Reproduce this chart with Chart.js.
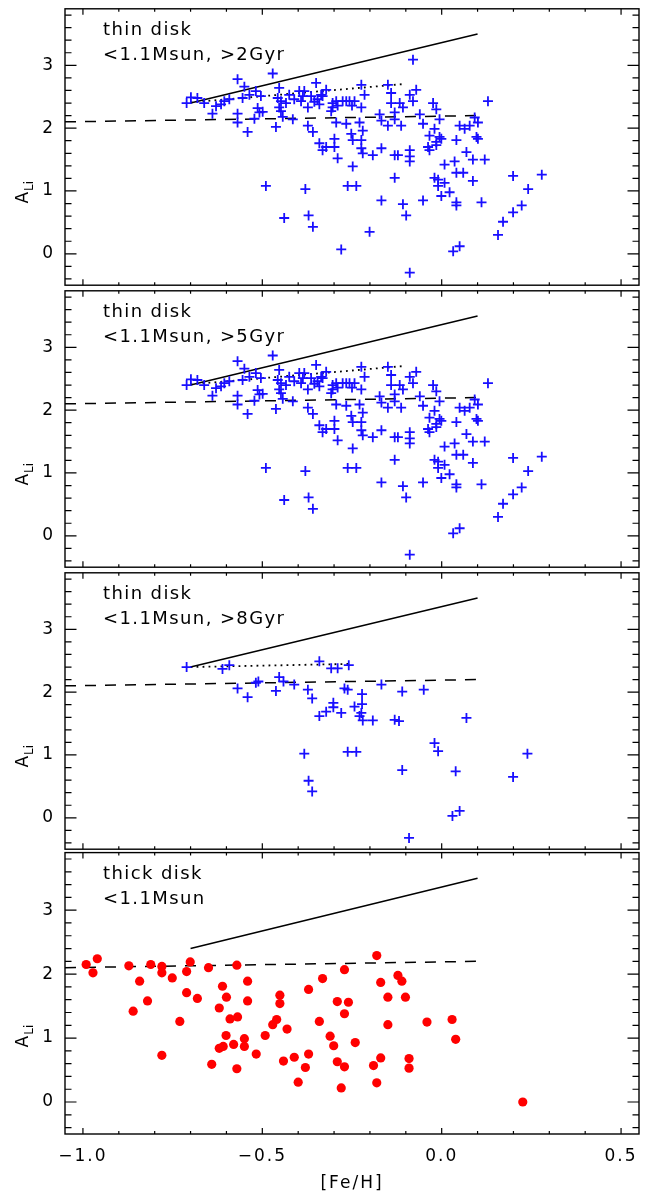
<!DOCTYPE html>
<html><head><meta charset="utf-8">
<script src="https://cdn.jsdelivr.net/npm/chart.js@4/dist/chart.umd.min.js"></script>
<style>
html,body{margin:0;padding:0;background:#fff;}
#wrap{position:relative;width:647px;height:1194px;overflow:hidden;}
#wrap canvas{position:absolute;left:0;}
</style></head><body><div id="wrap">
<canvas id="c0"></canvas><canvas id="c1"></canvas><canvas id="c2"></canvas><canvas id="c3"></canvas>
</div>
<script>
// ---------------- data ----------------
const xTickValues = [-1.0, -0.5, 0.0, 0.5];
const yTickValues = [0, 1, 2, 3];
const xTitle = '[Fe/H]';
const panelLabels = [
  ['thin disk', '<1.1Msun, >2Gyr'],
  ['thin disk', '<1.1Msun, >5Gyr'],
  ['thin disk', '<1.1Msun, >8Gyr'],
  ['thick disk', '<1.1Msun']
];

// thin disk, >2 Gyr
const thin2Fe = [-0.711,-0.699,-0.681,-0.662,-0.639,-0.629,-0.615,-0.606,-0.592,-0.569,-0.569,-0.569,-0.550,-0.555,-0.541,-0.536,-0.518,-0.508,-0.504,-0.522,-0.499,-0.471,-0.490,-0.453,-0.457,-0.462,-0.448,-0.443,-0.434,-0.439,-0.425,-0.415,-0.411,-0.397,-0.392,-0.387,-0.383,-0.373,-0.373,-0.380,-0.371,-0.359,-0.359,-0.350,-0.346,-0.341,-0.336,-0.332,-0.322,-0.322,-0.304,-0.304,-0.299,-0.294,-0.290,-0.299,-0.280,-0.276,-0.266,-0.262,-0.238,-0.248,-0.252,-0.248,-0.224,-0.215,-0.224,-0.229,-0.224,-0.224,-0.220,-0.220,-0.192,-0.201,
 -0.294,-0.266,-0.257,-0.243,-0.290,-0.250,-0.448,-0.453,-0.364,-0.355,-0.332,-0.341,-0.513,-0.308,
 -0.080,-0.150,-0.141,-0.089,-0.071,-0.080,-0.141,-0.117,-0.108,-0.131,-0.173,-0.168,-0.150,-0.131,-0.113,-0.061,-0.052,-0.024,-0.015,-0.006,-0.020,-0.034,-0.006,-0.015,-0.001,-0.038,-0.034,-0.015,0.041,0.050,0.064,0.078,0.092,0.101,0.097,0.101,0.129,0.069,0.087,0.120,0.036,0.008,0.041,0.060,0.087,-0.020,-0.010,-0.010,0.008,-0.001,0.022,0.041,0.041,0.111,-0.052,-0.168,-0.108,-0.099,-0.089,0.032,0.050,0.157,0.171,0.199,0.223,0.199,0.241,0.279,-0.168,-0.131,-0.122,-0.089,-0.089,-0.089,-0.131];
const thin2Li = [2.40,2.49,2.48,2.40,2.23,2.35,2.38,2.43,2.46,2.78,2.23,2.09,2.66,2.48,1.94,2.53,2.59,2.25,2.51,2.15,2.26,2.87,1.08,2.64,2.48,2.02,2.27,2.18,2.40,0.57,2.53,2.14,2.46,2.59,2.43,2.51,2.59,2.33,2.04,1.03,0.61,0.43,1.94,2.72,2.46,1.76,2.53,1.65,2.61,1.70,2.40,2.33,1.83,2.09,1.52,1.70,0.07,2.43,2.07,1.08,1.08,1.39,1.91,1.81,2.69,2.53,2.33,2.09,1.81,1.68,1.60,1.96,1.57,0.35,
 2.43,2.43,2.43,2.43,2.36,2.36,2.43,2.33,2.51,2.42,2.51,2.38,2.32,2.27,
 3.09,2.69,2.56,2.53,2.61,2.43,2.40,2.40,2.33,2.25,2.22,2.12,2.04,2.14,2.04,2.22,2.07,2.40,2.30,2.14,1.99,1.88,1.86,1.78,1.83,1.70,1.65,1.73,1.81,2.04,1.99,2.04,2.17,2.09,1.86,1.83,2.43,1.62,1.50,1.50,1.47,1.42,1.29,1.29,1.16,1.21,1.18,1.08,1.13,0.92,0.98,0.82,0.77,0.82,0.85,0.85,0.79,0.61,-0.30,0.04,0.12,0.30,0.51,0.66,0.77,1.24,1.03,1.26,1.68,1.57,1.57,1.65,1.55,1.47,1.21];

// thin disk, >5 Gyr
const thin5Fe = [-0.711,-0.699,-0.681,-0.662,-0.639,-0.629,-0.615,-0.606,-0.592,-0.569,-0.569,-0.569,-0.550,-0.555,-0.541,-0.536,-0.518,-0.508,-0.504,-0.522,-0.499,-0.471,-0.490,-0.453,-0.457,-0.462,-0.448,-0.443,-0.434,-0.439,-0.425,-0.415,-0.411,-0.397,-0.392,-0.387,-0.383,-0.373,-0.373,-0.380,-0.371,-0.359,-0.359,-0.350,-0.346,-0.341,-0.336,-0.332,-0.322,-0.322,-0.304,-0.304,-0.299,-0.294,-0.290,-0.299,-0.276,-0.266,-0.262,-0.238,-0.248,-0.252,-0.248,-0.224,-0.215,-0.224,-0.229,-0.224,-0.224,-0.220,-0.220,-0.192,
 -0.294,-0.266,-0.257,-0.243,-0.290,-0.250,-0.448,-0.453,-0.364,-0.355,-0.332,-0.341,-0.513,-0.308,
 -0.150,-0.141,-0.089,-0.071,-0.080,-0.141,-0.117,-0.108,-0.131,-0.173,-0.168,-0.150,-0.131,-0.113,-0.061,-0.052,-0.024,-0.015,-0.006,-0.020,-0.034,-0.006,-0.015,-0.001,-0.038,-0.034,-0.015,0.041,0.050,0.064,0.078,0.092,0.101,0.097,0.101,0.129,0.069,0.087,0.120,0.036,0.008,0.041,0.060,0.087,-0.020,-0.010,-0.010,0.008,-0.001,0.022,0.041,0.041,0.111,-0.052,-0.168,-0.108,-0.099,-0.089,0.032,0.050,0.157,0.171,0.199,0.223,0.199,0.241,0.279,-0.168,-0.131,-0.122,-0.089,-0.089,-0.089,-0.131];
const thin5Li = [2.40,2.49,2.48,2.40,2.23,2.35,2.38,2.43,2.46,2.78,2.23,2.09,2.66,2.48,1.94,2.53,2.59,2.25,2.51,2.15,2.26,2.87,1.08,2.64,2.48,2.02,2.27,2.18,2.40,0.57,2.53,2.14,2.46,2.59,2.43,2.51,2.59,2.33,2.04,1.03,0.61,0.43,1.94,2.72,2.46,1.76,2.53,1.65,2.61,1.70,2.40,2.33,1.83,2.09,1.52,1.70,2.43,2.07,1.08,1.08,1.39,1.91,1.81,2.69,2.53,2.33,2.09,1.81,1.68,1.60,1.96,1.57,
 2.43,2.43,2.43,2.43,2.36,2.36,2.43,2.33,2.51,2.42,2.51,2.38,2.32,2.27,
 2.69,2.56,2.53,2.61,2.43,2.40,2.40,2.33,2.25,2.22,2.12,2.04,2.14,2.04,2.22,2.07,2.40,2.30,2.14,1.99,1.88,1.86,1.78,1.83,1.70,1.65,1.73,1.81,2.04,1.99,2.04,2.17,2.09,1.86,1.83,2.43,1.62,1.50,1.50,1.47,1.42,1.29,1.29,1.16,1.21,1.18,1.08,1.13,0.92,0.98,0.82,0.77,0.82,0.85,0.85,0.79,0.61,-0.30,0.04,0.12,0.30,0.51,0.66,0.77,1.24,1.03,1.26,1.68,1.57,1.57,1.65,1.55,1.47,1.21];

// thin disk, >8 Gyr
const thin8Fe = [-0.711,-0.611,-0.592,-0.569,-0.541,-0.518,-0.511,-0.453,-0.441,-0.462,-0.411,-0.373,-0.361,-0.383,-0.371,-0.361,-0.341,-0.308,-0.290,-0.259,-0.341,-0.322,-0.302,-0.302,-0.280,-0.271,-0.262,-0.262,-0.238,-0.243,-0.222,-0.222,-0.224,-0.229,-0.220,-0.192,-0.168,-0.110,-0.050,-0.131,-0.119,0.069,-0.020,-0.010,-0.110,0.039,0.199,0.239,0.030,0.050,-0.091];
const thin8Li = [2.40,2.37,2.43,2.06,1.92,2.15,2.17,2.24,2.17,2.02,2.12,2.04,1.90,1.02,0.59,0.42,2.49,2.38,2.38,2.43,1.62,1.69,1.83,1.76,1.67,2.06,2.04,1.05,1.05,1.77,1.97,1.81,1.67,1.62,1.55,1.55,2.12,2.01,2.04,1.56,1.54,1.59,1.19,1.06,0.76,0.74,0.65,1.02,0.03,0.11,-0.32];

// thick disk
const thickFe = [-0.991,-0.960,-0.972,-0.872,-0.811,-0.780,-0.780,-0.842,-0.751,-0.701,-0.711,-0.650,-0.571,-0.711,-0.681,-0.820,-0.860,-0.730,-0.780,-0.611,-0.600,-0.620,-0.541,-0.541,-0.590,-0.569,-0.601,-0.620,-0.609,-0.580,-0.550,-0.550,-0.641,-0.571,-0.517,-0.492,-0.471,-0.460,-0.431,-0.451,-0.451,-0.441,-0.411,-0.371,-0.380,-0.400,-0.371,-0.332,-0.341,-0.311,-0.301,-0.291,-0.260,-0.271,-0.271,-0.291,-0.271,-0.280,-0.241,-0.181,-0.170,-0.150,-0.150,-0.122,-0.111,-0.101,-0.190,-0.170,-0.181,-0.091,-0.091,-0.041,0.029,0.039,0.226];
const thickLi = [2.15,2.24,2.02,2.13,2.15,2.12,2.02,1.89,1.94,2.19,2.04,2.10,2.14,1.71,1.62,1.58,1.42,1.26,0.73,1.81,1.64,1.47,1.89,1.58,1.30,1.33,1.04,0.84,0.87,0.90,0.99,0.87,0.59,0.52,0.75,1.04,1.21,1.29,1.14,1.67,1.54,0.64,0.70,0.75,0.54,0.31,1.76,1.93,1.26,1.03,0.88,1.57,1.56,1.38,2.07,0.63,0.55,0.22,0.93,2.29,1.87,1.64,1.21,1.98,1.89,1.64,0.57,0.69,0.30,0.68,0.53,1.25,1.29,0.98,0.00];

// reference lines
const solidFe = [-0.70, 0.10], solidLi = [2.40, 3.50];
const dashFe = [-1.05, 0.10], dashLi = [2.10, 2.20];
const dot25Fe = [-0.70, -0.11], dot25Li = [2.41, 2.70];
const dot8Fe = [-0.70, -0.25], dot8Li = [2.40, 2.45];

// ---------------- rendering ----------------
const FONT = 'DejaVu Sans';
const panelTop = [6, 288, 570, 852];
const panelH = 282;
const pts = (xs, ys) => xs.map((v, i) => ({x: v, y: ys[i]}));

const framePlugin = {
  id: 'frame',
  beforeDraw(chart) { chart.ctx.letterSpacing = '2px'; },
  afterDraw(chart, args, o) {
    const {ctx, chartArea: a, scales: {x, y}} = chart;
    ctx.save();
    ctx.strokeStyle = '#000';
    ctx.lineWidth = 1.4;
    ctx.strokeRect(a.left, a.top, a.right - a.left, a.bottom - a.top);
    ctx.lineWidth = 1.2;
    ctx.beginPath();
    for (let i = -10; i <= 5; i++) {
      const px = x.getPixelForValue(i / 10);
      const L = (i % 5 === 0) ? 6 : 3;
      ctx.moveTo(px, a.bottom); ctx.lineTo(px, a.bottom - L);
      ctx.moveTo(px, a.top); ctx.lineTo(px, a.top + L);
    }
    for (let i = -2; i <= 19; i++) {
      const py = y.getPixelForValue(i / 5);
      const L = (i % 5 === 0) ? 11.5 : 6.5;
      ctx.moveTo(a.left, py); ctx.lineTo(a.left + L, py);
      ctx.moveTo(a.right, py); ctx.lineTo(a.right - L, py);
    }
    ctx.stroke();
    // panel labels
    ctx.fillStyle = '#000';
    ctx.letterSpacing = '1.4px';
    ctx.font = '18px "' + FONT + '"';
    ctx.textBaseline = 'alphabetic';
    ctx.textAlign = 'left';
    ctx.fillText(o.labels[0], 103, a.top + 26);
    ctx.fillText(o.labels[1], 103, a.top + 51);
    // y title A_Li
    ctx.letterSpacing = '0px';
    ctx.translate(28, a.top + 184);
    ctx.rotate(-Math.PI / 2);
    ctx.font = '17px "' + FONT + '"';
    const wA = ctx.measureText('A').width;
    ctx.font = '12px "' + FONT + '"';
    const wL = ctx.measureText('Li').width;
    const x0 = -(wA + wL) / 2;
    ctx.font = '17px "' + FONT + '"';
    ctx.fillText('A', x0, 0);
    ctx.font = '12px "' + FONT + '"';
    ctx.fillText('Li', x0 + wA + 1, 5);
    ctx.restore();
  }
};

function makePanel(i, datasets, isBottom) {
  const cv = document.getElementById('c' + i);
  const padTop = 4;
  const h = isBottom ? (1194 - panelTop[i] + padTop) : panelH + 8;
  cv.width = 647; cv.height = h;
  cv.style.top = (panelTop[i] - padTop) + 'px';
  cv.style.width = '647px'; cv.style.height = h + 'px';
  return new Chart(cv, {
    type: 'scatter',
    data: {datasets},
    plugins: [framePlugin],
    options: {
      responsive: false,
      animation: false,
      devicePixelRatio: 1,
      layout: {padding: {top: padTop, bottom: isBottom ? 0 : 4, left: 0, right: 8}},
      plugins: {legend: {display: false}, tooltip: {enabled: false}, frame: {labels: panelLabels[i]}},
      scales: {
        x: {
          type: 'linear', min: -1.05, max: 0.55, display: isBottom,
          afterBuildTicks: s => { s.ticks = xTickValues.map(v => ({value: v})); },
          afterFit: s => { s.height = isBottom ? (1194 - 1134) : 0; s.paddingLeft = 0; s.paddingRight = 0; },
          grid: {display: false, drawTicks: false},
          border: {display: false},
          ticks: {color: '#000', padding: 12, font: {family: FONT, size: 17},
                  callback: v => (v < 0 ? '\u2212' : '') + Math.abs(v).toFixed(1)},
          title: {display: true, text: xTitle, color: '#000', font: {family: FONT, size: 17}, padding: {top: 0, bottom: 0}}
        },
        y: {
          type: 'linear', min: -0.5, max: 3.9,
          afterBuildTicks: s => { s.ticks = yTickValues.map(v => ({value: v})); },
          afterFit: s => { s.width = 65; s.paddingTop = 0; s.paddingBottom = 0; },
          grid: {display: false, drawTicks: false},
          border: {display: false},
          ticks: {color: '#000', padding: 10, font: {family: FONT, size: 17}, callback: v => String(v)}
        }
      }
    }
  });
}

function lineDs(xs, ys, dash, w) {
  return {type: 'line', data: pts(xs, ys), showLine: true, borderColor: '#000', borderWidth: w || 1.5,
          borderDash: dash, pointRadius: 0, fill: false, tension: 0};
}
function crossDs(xs, ys) {
  return {data: pts(xs, ys), pointStyle: 'cross', pointRadius: 5, borderColor: 'rgb(25,15,255)',
          backgroundColor: 'rgb(25,15,255)', pointBorderWidth: 1.8, borderWidth: 1.8, showLine: false};
}

makePanel(0, [crossDs(thin2Fe, thin2Li), lineDs(solidFe, solidLi, []), lineDs(dashFe, dashLi, [11, 9]), lineDs(dot25Fe, dot25Li, [1.8, 4.2], 1.8)], false);
makePanel(1, [crossDs(thin5Fe, thin5Li), lineDs(solidFe, solidLi, []), lineDs(dashFe, dashLi, [11, 9]), lineDs(dot25Fe, dot25Li, [1.8, 4.2], 1.8)], false);
makePanel(2, [crossDs(thin8Fe, thin8Li), lineDs(solidFe, solidLi, []), lineDs(dashFe, dashLi, [11, 9]), lineDs(dot8Fe, dot8Li, [1.8, 4.2], 1.8)], false);
makePanel(3, [{data: pts(thickFe, thickLi), pointStyle: 'circle', pointRadius: 4.6, backgroundColor: '#ff0000', borderWidth: 0, showLine: false},
              lineDs(solidFe, solidLi, []), lineDs(dashFe, dashLi, [11, 9])], true);
</script>
</body></html>
